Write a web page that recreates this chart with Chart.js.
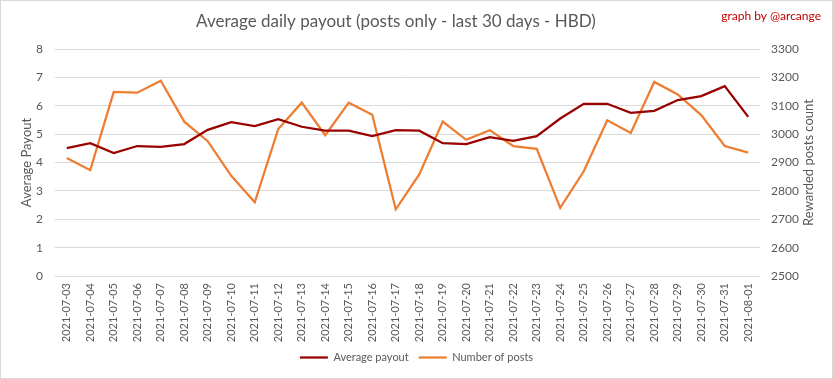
<!DOCTYPE html>
<html>
<head>
<meta charset="utf-8">
<script src="https://cdn.jsdelivr.net/npm/chart.js@4"></script>
<style>
html,body{margin:0;padding:0;background:#fff;}
#wrap{width:833px;height:379px;}
</style>
</head>
<body>
<div id="wrap"><canvas id="c" width="833" height="379"></canvas></div>
<script>
const categories = ["2021-07-03","2021-07-04","2021-07-05","2021-07-06","2021-07-07","2021-07-08","2021-07-09","2021-07-10","2021-07-11","2021-07-12","2021-07-13","2021-07-14","2021-07-15","2021-07-16","2021-07-17","2021-07-18","2021-07-19","2021-07-20","2021-07-21","2021-07-22","2021-07-23","2021-07-24","2021-07-25","2021-07-26","2021-07-27","2021-07-28","2021-07-29","2021-07-30","2021-07-31","2021-08-01"];
const averagePayout = [4.51,4.68,4.33,4.58,4.55,4.65,5.15,5.42,5.28,5.53,5.26,5.12,5.12,4.93,5.14,5.12,4.68,4.65,4.89,4.76,4.93,5.55,6.07,6.07,5.75,5.82,6.20,6.34,6.69,5.61];
const numberOfPosts = [2916,2873,3149,3146,3188,3044,2975,2853,2760,3018,3111,2996,3111,3068,2735,2858,3044,2980,3014,2958,2948,2740,2869,3049,3004,3184,3140,3067,2958,2935];
const leftTicks = [0,1,2,3,4,5,6,7,8];
const rightTicks = [2500,2600,2700,2800,2900,3000,3100,3200,3300];
const titleText = "Average daily payout (posts only - last 30 days - HBD)";
const creditText = "graph by @arcange";
const leftAxisTitle = "Average Payout";
const rightAxisTitle = "Rewarded posts count";

const FONT = "Lato, 'Open Sans', sans-serif";
const GREY = "#595959";

const extras = {
  id: 'extras',
  afterDraw(chart) {
    const ctx = chart.ctx;
    const a = chart.chartArea;
    ctx.save();
    ctx.strokeStyle = '#d9d9d9';
    ctx.lineWidth = 1;
    ctx.strokeRect(0.5, 0.5, chart.width - 1, chart.height - 1);
    ctx.fillStyle = GREY;
    ctx.font = "17px " + FONT;
    ctx.textAlign = 'center';
    ctx.textBaseline = 'middle';
    ctx.fillText(titleText, 396, 22);
    ctx.fillStyle = '#c00000';
    ctx.font = "12px " + FONT;
    ctx.textAlign = 'right';
    ctx.fillText(creditText, 821, 16);
    ctx.fillStyle = GREY;
    ctx.font = "13px " + FONT;
    ctx.textAlign = 'center';
    ctx.translate(809, (a.top + a.bottom) / 2);
    ctx.rotate(-Math.PI / 2);
    ctx.fillText(rightAxisTitle, 0, 0);
    ctx.restore();
  }
};

new Chart(document.getElementById('c'), {
  type: 'line',
  data: {
    labels: categories,
    datasets: [
      {label: 'Average payout', data: averagePayout, yAxisID: 'y', borderColor: '#990000', backgroundColor: '#990000', borderWidth: 2.25, pointRadius: 0, tension: 0},
      {label: 'Number of posts', data: numberOfPosts, yAxisID: 'y1', borderColor: '#ED7D31', backgroundColor: '#ED7D31', borderWidth: 2.25, pointRadius: 0, tension: 0}
    ]
  },
  options: {
    responsive: false,
    animation: false,
    layout: {padding: {left: 0, right: 0, top: 49, bottom: 6}},
    plugins: {
      title: {display: false},
      legend: {
        position: 'bottom',
        labels: {color: GREY, font: {family: FONT, size: 11}, usePointStyle: true, pointStyle: 'line', pointStyleWidth: 28, boxHeight: 2, padding: 10}
      },
      tooltip: {enabled: false}
    },
    scales: {
      x: {
        offset: true,
        grid: {display: false, drawTicks: false},
        border: {display: false},
        ticks: {color: GREY, font: {family: FONT, size: 11}, minRotation: 90, maxRotation: 90, padding: 7, autoSkip: false},
        afterFit(s) { s.height = 66; }
      },
      y: {
        position: 'left',
        min: 0, max: 8,
        afterBuildTicks(s) { s.ticks = leftTicks.map(v => ({value: v})); },
        grid: {color: '#d9d9d9', drawTicks: false},
        border: {display: false},
        ticks: {color: GREY, font: {family: FONT, size: 12}, padding: 12},
        title: {display: true, text: leftAxisTitle, color: GREY, font: {family: FONT, size: 13}, padding: {top: 19, bottom: 0}},
        afterFit(s) { s.width = 55; }
      },
      y1: {
        position: 'right',
        min: 2500, max: 3300,
        afterBuildTicks(s) { s.ticks = rightTicks.map(v => ({value: v})); },
        grid: {display: false, drawTicks: false},
        border: {display: false},
        ticks: {color: GREY, font: {family: FONT, size: 12}, padding: 11, callback: v => String(v)},
        afterFit(s) { s.width = 73; }
      }
    }
  },
  plugins: [extras]
});
</script>
</body>
</html>
